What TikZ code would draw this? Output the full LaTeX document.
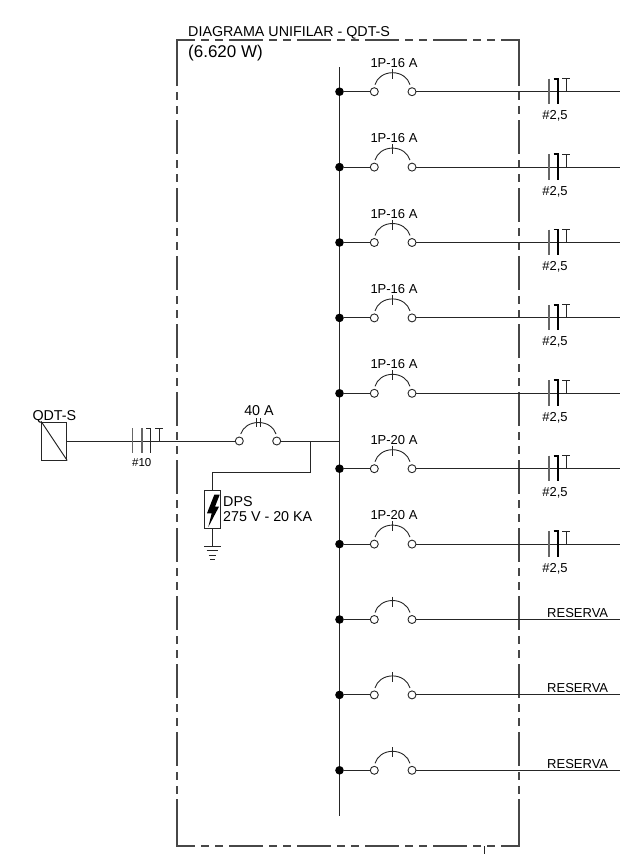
\documentclass[tikz,border=0pt]{standalone}
\usepackage{fontspec}
\setmainfont{Liberation Sans}
\tikzset{
  wire/.style={line width=1pt,black!85},
  frame/.style={line width=1.1pt,black!72,line cap=butt},
  term/.style={circle,draw=black!85,fill=white,line width=0.9pt,minimum size=8pt,inner sep=0pt},
  busdot/.style={circle,fill=black,minimum size=8.6pt,inner sep=0pt},
  lbl/.style={inner sep=0pt,font=\fontsize{13}{15}\selectfont},
  lbll/.style={inner sep=0pt,font=\fontsize{14.3}{16}\selectfont},
  thin tick/.style={line width=1.1pt,black!60},
  thick tick/.style={line width=1.7pt,black}
}
\begin{document}
\begin{tikzpicture}[x=1pt,y=-1pt]
\useasboundingbox (0,0) rectangle (637,854);
% frame
\coordinate (tl) at (177,40); \coordinate (tr) at (519,40);
\coordinate (bl) at (177,846); \coordinate (br) at (519,846);
\draw[frame] (177,86) -- (tl) -- (195,40);
\draw[frame] (501,40) -- (tr) -- (519,86);
\draw[frame] (177,799) -- (bl) -- (195,846);
\draw[frame] (501,846) -- (br) -- (519,799);
\foreach \k in {0,1,2,3,4}{
  \pgfmathsetmacro{\s}{201+68*\k}
  \foreach \yy in {40,846}{
    \draw[frame] (\s,\yy) -- (\s+8,\yy) (\s+14,\yy) -- (\s+22,\yy);
    \ifnum\k<4 \draw[frame] (\s+28,\yy) -- (\s+62,\yy); \fi
  }
}
\foreach \k in {0,...,10}{
  \pgfmathsetmacro{\s}{92+68*\k}
  \foreach \xx in {177,519}{
    \draw[frame] (\xx,\s) -- (\xx,\s+8) (\xx,\s+14) -- (\xx,\s+22);
    \ifnum\k<10 \draw[frame] (\xx,\s+28) -- (\xx,\s+62); \fi
  }
}
\draw[wire] (484,846) -- (484,854);
\node[lbll,anchor=base west] (title) at (188,36) {DIAGRAMA UNIFILAR - QDT-S};
\node[inner sep=0pt,anchor=base west,font=\fontsize{17}{19}\selectfont] (power) at (188,57) {(6.620 W)};
% bus
\coordinate (bustop) at (339.5,67); \coordinate (busbot) at (339.5,815.5);
\draw[wire] (bustop) -- (busbot);
% rows
\foreach \i/\y/\t in {1/91.7/1P-16 A,2/167.1/1P-16 A,3/242.5/1P-16 A,4/317.9/1P-16 A,5/393.3/1P-16 A,6/468.7/1P-20 A,7/544.1/1P-20 A,8/619.5/,9/694.9/,10/770.3/}{
  \node[busdot] (d\i) at (339.5,\y) {};
  \node[term] (a\i) at (374.3,\y) {};
  \node[term] (b\i) at (412,\y) {};
  \coordinate (e\i) at (620,\y);
  \draw[wire] (d\i) -- (a\i);
  \draw[wire] (b\i) -- (e\i);
  \draw[wire,line width=.9pt] (375,\y-7) .. controls (377,\y-14) and (384,\y-19) .. (392.5,\y-19) .. controls (401,\y-19) and (408,\y-14) .. (410,\y-7);
  \draw[wire,line width=.9pt] (392.5,\y-23) -- (392.5,\y-13);
  \ifnum\i<8
    \node[lbl,anchor=base] (t\i) at (394,\y-24.4) {\t};
    \draw[thin tick] (549,\y-13) -- (549,\y+12.5);
    \draw[thick tick] (553.5,\y-13) -- (558,\y-13) -- (558,\y+12.5);
    \draw[wire] (562,\y-13) -- (570,\y-13) (566,\y-13) -- (566,\y);
    \node[lbl,anchor=base] (c\i) at (555,\y+28) {\#2,5};
  \else
    \node[lbl,anchor=base west] (r\i) at (547,\y-2) {RESERVA};
  \fi
}
% incoming feeder
\node[draw=black!85,line width=1pt,minimum width=25pt,minimum height=38pt,inner sep=0pt] (qdt) at (54.2,441) {};
\draw[wire] (qdt.north west) -- (qdt.south east);
\node[lbll,anchor=base west] (qdtl) at (32.3,420) {QDT-S};
\node[term] (ma) at (239.3,441) {};
\node[term] (mb) at (276.7,441) {};
\coordinate (busf) at (339.5,441);
\coordinate (tap) at (310.3,441);
\draw[wire] (qdt.east |- ma) -- (ma);
\draw[wire] (mb) -- (busf);
\draw[thin tick] (132.7,428) -- (132.7,453);
\draw[thin tick] (142,428) -- (142,453);
\draw[wire] (146,428.3) -- (150.3,428.3) -- (150.3,453);
\draw[wire] (155,428.3) -- (163,428.3) (159,428.3) -- (159,441);
\node[inner sep=0pt,anchor=base,font=\fontsize{11.5}{13}\selectfont] (c10) at (141.7,466.5) {\#10};
\draw[wire,line width=.9pt] (240.7,434) .. controls (243,427) and (250,422.5) .. (258.4,422.5) .. controls (267,422.5) and (274,427) .. (276,434);
\draw[wire,line width=.9pt] (256,418) -- (256,426.5) (260.7,418) -- (260.7,426.5);
\node[lbll,anchor=base] (ml) at (259,415) {40 A};
% DPS
\node[draw=black!85,line width=1pt,minimum width=16pt,minimum height=37.5pt,inner sep=0pt] (dps) at (212.3,509.5) {};
\coordinate (gnd) at (212.3,546);
\draw[wire] (tap) -- (310.3,472.5) -- (212.3,472.5) -- (dps.north);
\draw[wire] (dps.south) -- (gnd);
\fill[black] (214.3,494.7) -- (219.7,494.7) -- (215,506.7) -- (219,506.7) -- (208.3,527) -- (211.7,513.3) -- (207,513.3) -- cycle;
\draw[wire] (204,546) -- (220.7,546) (206.5,550.5) -- (218,550.5) (208.5,555) -- (216,555) (210,559.5) -- (214.5,559.5);
\node[lbll,anchor=base west] (dl1) at (223,506) {DPS};
\node[lbll,anchor=base west] (dl2) at (223,521.7) {275 V - 20 KA};
\end{tikzpicture}
\end{document}
